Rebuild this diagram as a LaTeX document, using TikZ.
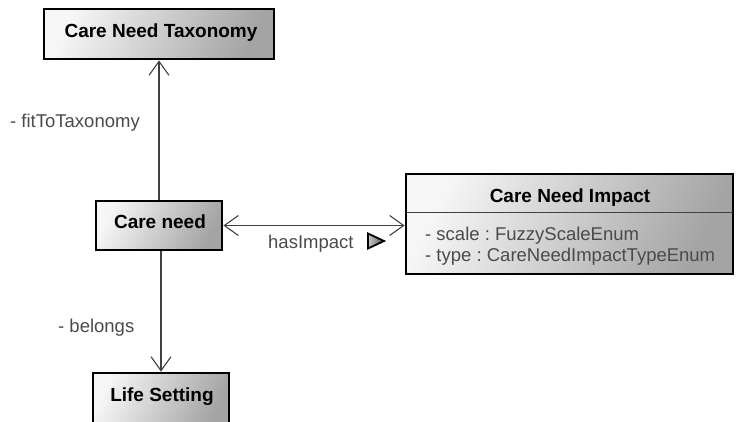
\documentclass[tikz,border=0pt]{standalone}
\usepackage{fontspec}
\setmainfont{Liberation Sans}
\usetikzlibrary{arrows.meta}
\frenchspacing

\definecolor{linegray}{HTML}{404040}
\definecolor{labelgray}{HTML}{4A4A4A}
\definecolor{shadelight}{HTML}{F6F6F6}
\definecolor{shadedark}{HTML}{A4A4A4}

\tikzset{
  classbox/.style={draw=black, line width=2.8pt, top color=shadelight,
    bottom color=shadedark, shading angle=65, inner sep=0pt,
    font=\bfseries\fontsize{19}{22}\selectfont},
  classtitle/.style={inner sep=0pt, anchor=base,
    font=\bfseries\fontsize{19}{22}\selectfont},
  attrtext/.style={inner sep=0pt, anchor=base west, text=labelgray,
    font=\fontsize{18.5}{22}\selectfont},
  rolelabel/.style={text=labelgray, font=\fontsize{18.5}{22}\selectfont,
    inner sep=0pt, anchor=base west},
  tipbarb/.tip={Straight Barb[length=14pt,width=20pt,line width=1.1pt]},
  assoc/.style={draw=linegray, line width=1.1pt},
}

\begin{document}
\begin{tikzpicture}[x=1pt, y=-1pt]
  \useasboundingbox (0,0) rectangle (736,421);
  \clip (0,0) rectangle (736,421);

  % classes
  \node[classbox, minimum width=230pt, minimum height=50pt] (tax) at (159,34) {};
  \node[classtitle] (taxt) at (161,37.7) {Care Need Taxonomy};

  \node[classbox, minimum width=126pt, minimum height=49pt] (cn) at (159,225.5) {};
  \node[classtitle] (cnt) at (160,228.3) {Care need};

  \node[classbox, minimum width=327pt, minimum height=100pt] (cni) at (569.5,224) {};
  \node[classtitle] (cnit) at (570,202) {Care Need Impact};
  \draw[linegray, line width=1pt] (407,212.7) coordinate (sepL) -- (733,212.7) coordinate (sepR);
  \node[attrtext] (attr1) at (425,240) {- scale : FuzzyScaleEnum};
  \node[attrtext] (attr2) at (425,261.5) {- type : CareNeedImpactTypeEnum};

  \node[classbox, minimum width=136pt, minimum height=52pt] (ls) at (161,399) {};
  \node[classtitle] (lst) at (162,401.5) {Life Setting};

  % associations
  \draw[assoc, -tipbarb] (cn.north) -- (cn.north |- tax.south);
  \node[rolelabel] (fit) at (10,127) {- fitToTaxonomy};

  \draw[assoc, tipbarb-tipbarb] (cn.east) -- (cn.east -| cni.west);
  \node[rolelabel] (has) at (268,248) {hasImpact};
  \draw[draw=black, line width=1.8pt, left color=shadelight!60!gray, right color=gray!70!black]
    (368,233.5) -- (368,248.5) -- (384,241) -- cycle;

  \draw[assoc, -tipbarb] (161,251) coordinate (cnbot) -- (cnbot |- ls.north);
  \node[rolelabel] (bel) at (58,332.7) {- belongs};
\end{tikzpicture}
\end{document}
